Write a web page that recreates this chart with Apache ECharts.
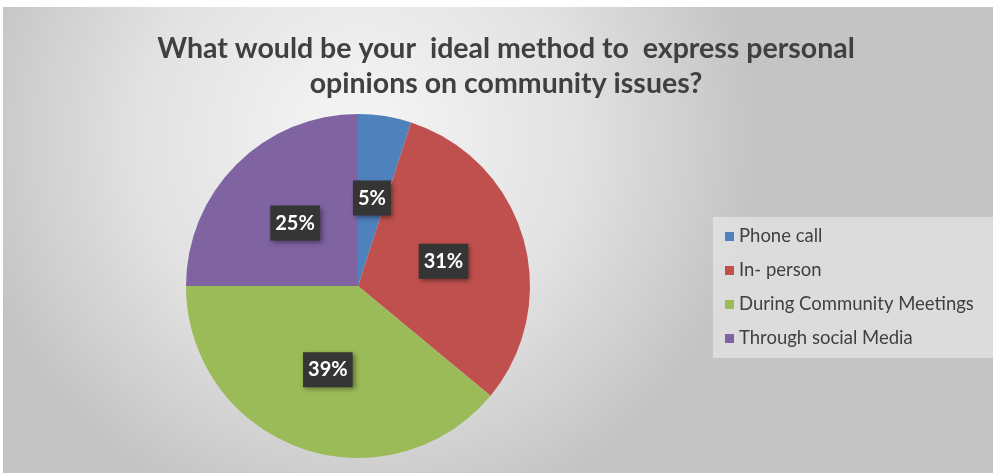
<!DOCTYPE html>
<html>
<head>
<meta charset="utf-8">
<script src="https://cdn.jsdelivr.net/npm/echarts@6/dist/echarts.min.js"></script>
<style>
  html, body { margin: 0; padding: 0; background: #ffffff; }
  #chart { position: absolute; left: 3px; top: 7px; width: 990px; height: 466px; }
</style>
</head>
<body>
<div id="chart"></div>
<script>
// Survey answers: preferred way to voice opinions on community issues (percent)
const categories = ['Phone call', 'In- person', 'During Community Meetings', 'Through social Media'];
const shares = [5, 31, 39, 25];
const sliceColors = ['#4F81BD', '#C0504D', '#9BBB59', '#8064A2'];
const titleText = 'What would be your  ideal method to  express personal\nopinions on community issues?';

const chart = echarts.init(document.getElementById('chart'), null, { renderer: 'canvas' });

chart.setOption({
  backgroundColor: {
    type: 'radial', x: 0.36, y: 0.28, r: 0.85,
    colorStops: [
      { offset: 0, color: '#f6f6f6' },
      { offset: 0.55, color: '#e2e2e2' },
      { offset: 1, color: '#c4c4c4' }
    ]
  },
  title: {
    text: titleText,
    left: 498, top: 19, textAlign: 'center',
    textStyle: {
      fontFamily: 'Lato', fontWeight: 'bold', fontSize: 28.5,
      color: '#404040', lineHeight: 35
    }
  },
  legend: {
    orient: 'vertical',
    left: 710, top: 210,
    padding: [10, 20, 10, 12],
    itemGap: 15,
    itemWidth: 9, itemHeight: 9,
    icon: 'rect',
    backgroundColor: 'rgba(240,240,240,0.55)',
    textStyle: { fontFamily: 'Lato', fontSize: 18.5, color: '#404040', lineHeight: 19 },
    data: categories
  },
  series: [{
    type: 'pie',
    center: [355, 279],
    radius: [0, 172],
    startAngle: 90,
    clockwise: true,
    silent: true,
    data: categories.map((name, i) => ({ name, value: shares[i], itemStyle: { color: sliceColors[i] } })),
    label: {
      show: true,
      position: 'inside',
      formatter: p => p.value + '%',
      fontFamily: 'Lato', fontWeight: 'bold', fontSize: 20,
      color: '#ffffff',
      backgroundColor: '#353535',
      padding: [8, 5, 7, 5],
      shadowColor: 'rgba(0,0,0,0.45)', shadowBlur: 5, shadowOffsetX: 2, shadowOffsetY: 2
    },
    labelLine: { show: false }
  }]
});
</script>
</body>
</html>
